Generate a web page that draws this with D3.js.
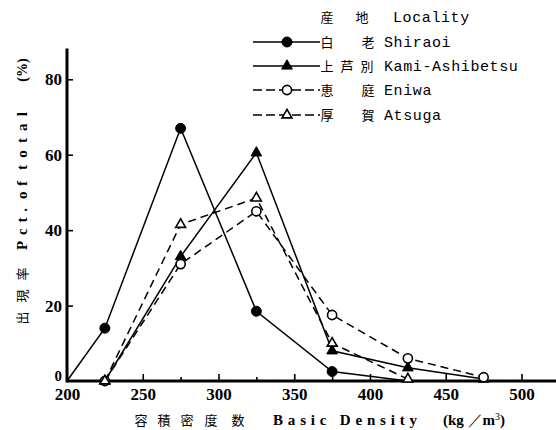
<!DOCTYPE html>
<html>
<head>
<meta charset="utf-8">
<script src="https://cdn.jsdelivr.net/npm/d3@7"></script>
<style>
  html, body { margin: 0; padding: 0; background: #fff; }
  svg { display: block; }
</style>
</head>
<body>
<svg id="chart" width="556" height="430"></svg>
<script>
// Basic density class mid-points (kg/m3) and share of stems per locality (%)
const densityClasses = [200, 225, 275, 325, 375, 425, 475];
const shiraoi = [0, 14, 67, 18.5, 2.5, 0, null];
const kamiAshibetsu = [null, 0, 33, 60.5, 8, 3.5, 0.5];
const eniwa = [null, 0, 31, 45, 17.5, 6, 1];
const atsuga = [null, 0, 41.5, 48.5, 10, 0.5, null];

const xTicksMajor = [200, 250, 300, 350, 400, 450, 500];
const xTicksMinor = [225, 275, 325, 375, 425, 475, 525];
const yTicks = [0, 20, 40, 60, 80];

const localities = [
  { jp: ["白", "老"], en: "Shiraoi", values: shiraoi, symbol: "circle", filled: true, dashed: false },
  { jp: ["上", "芦", "別"], en: "Kami-Ashibetsu", values: kamiAshibetsu, symbol: "triangle", filled: true, dashed: false },
  { jp: ["恵", "庭"], en: "Eniwa", values: eniwa, symbol: "circle", filled: false, dashed: true },
  { jp: ["厚", "賀"], en: "Atsuga", values: atsuga, symbol: "triangle", filled: false, dashed: true }
];

const svg = d3.select("#chart");
const x = d3.scaleLinear().domain([200, 500]).range([67, 521.5]);
const y = d3.scaleLinear().domain([0, 80]).range([381, 79.3]);

const serif = "'Liberation Serif', 'Times New Roman', serif";
const mono = "'Liberation Mono', 'Courier New', monospace";
const cjk = "'Noto Sans CJK JP', sans-serif";

// ---- axes ----
const xMajor = svg.append("g")
  .attr("transform", `translate(0,${y(0)})`)
  .call(d3.axisBottom(x).tickValues(xTicksMajor).tickSizeInner(-7).tickSizeOuter(0).tickPadding(7).tickFormat(d3.format("d")));
const xMinor = svg.append("g")
  .attr("transform", `translate(0,${y(0)})`)
  .call(d3.axisBottom(x).tickValues(xTicksMinor).tickSizeInner(-4).tickSizeOuter(0).tickFormat(""));
const yAxis = svg.append("g")
  .attr("transform", `translate(${x(200)},0)`)
  .call(d3.axisLeft(y).tickValues(yTicks).tickSizeInner(-6).tickSizeOuter(0).tickPadding(5).tickFormat(d3.format("d")));

[xMajor, xMinor, yAxis].forEach(g => {
  g.select(".domain").remove();
  g.selectAll(".tick line").attr("stroke", "#000").attr("stroke-width", 1.6);
  g.selectAll(".tick text")
    .attr("fill", "#000")
    .style("font-family", serif)
    .style("font-weight", "bold")
    .style("font-size", "17px");
});
xMajor.selectAll(".tick").filter(d => d === 200).select("line").remove();
// the zero label sits just above the "200" of the density axis
const yZero = yAxis.selectAll(".tick").filter(d => d === 0);
yZero.select("line").remove();
yZero.select("text").attr("dy", "-0.05em").style("font-size", "15px");

// heavy axis lines
svg.append("line")
  .attr("x1", x(200)).attr("x2", 556)
  .attr("y1", y(0)).attr("y2", y(0))
  .attr("stroke", "#000").attr("stroke-width", 3);
svg.append("line")
  .attr("x1", x(200)).attr("x2", x(200))
  .attr("y1", y(0) + 1.5).attr("y2", y(88.2))
  .attr("stroke", "#000").attr("stroke-width", 3);

// ---- axis titles ----
const xTitle = svg.append("g")
  .attr("fill", "#000")
  .style("font-weight", "bold");
[["容", 141], ["積", 164], ["密", 187], ["度", 211], ["数", 238]].forEach(([ch, cx]) => {
  xTitle.append("text").attr("x", cx).attr("y", 425)
    .attr("text-anchor", "middle")
    .style("font-family", cjk).style("font-size", "13px").style("font-weight", "normal")
    .text(ch);
});
xTitle.append("text").attr("x", 273).attr("y", 425)
  .attr("textLength", 144).attr("lengthAdjust", "spacing")
  .style("font-family", serif).style("font-size", "15px")
  .text("Basic Density");
const unit = xTitle.append("text").attr("x", 443).attr("y", 425)
  .style("font-family", serif).style("font-size", "15px");
unit.append("tspan").text("(kg ");
unit.append("tspan").style("font-weight", "normal").text("／");
unit.append("tspan").text("m");
unit.append("tspan").attr("dy", -5).style("font-size", "10px").style("font-weight", "normal").text("3");
unit.append("tspan").attr("dy", 5).text(")");

const yTitle = svg.append("g")
  .attr("transform", "translate(27,0) rotate(-90)")
  .attr("fill", "#000");
[["出", 318], ["現", 296], ["率", 274]].forEach(([ch, cy]) => {
  yTitle.append("text").attr("x", -cy).attr("y", 0)
    .attr("text-anchor", "middle")
    .style("font-family", cjk).style("font-size", "13px")
    .text(ch);
});
[["Pct.", 250, 42], ["of", 199, 18], ["total", 170, 58]].forEach(([t, start, len]) => {
  yTitle.append("text").attr("x", -start).attr("y", 0)
    .attr("textLength", len).attr("lengthAdjust", "spacing")
    .style("font-family", serif).style("font-size", "15px").style("font-weight", "bold")
    .text(t);
});
yTitle.append("text").attr("x", -70).attr("y", 0)
  .attr("text-anchor", "middle")
  .style("font-family", serif).style("font-size", "14px").style("font-weight", "bold")
  .text("(%)");

// ---- series ----
const symbolType = { circle: d3.symbolCircle, triangle: d3.symbolTriangle };
const symbolSize = { circle: 78, triangle: 50 };

localities.forEach(loc => {
  const pts = densityClasses
    .map((d, i) => ({ cls: d, v: loc.values[i] }))
    .filter(p => p.v !== null);
  const line = d3.line().x(p => x(p.cls)).y(p => y(p.v));
  svg.append("path")
    .datum(pts)
    .attr("d", line)
    .attr("fill", "none")
    .attr("stroke", "#000")
    .attr("stroke-width", 1.5)
    .attr("stroke-dasharray", loc.dashed ? "8,5" : null);

  const last = pts[pts.length - 1];
  const marked = pts.filter(p => p.cls > 200 && !(p === last && p.v === 0));
  svg.append("g").selectAll("path")
    .data(marked)
    .join("path")
    .attr("transform", p => `translate(${x(p.cls)},${y(p.v)})`)
    .attr("d", d3.symbol().type(symbolType[loc.symbol]).size(loc.filled ? symbolSize[loc.symbol] : symbolSize[loc.symbol] * 0.85))
    .attr("fill", loc.filled ? "#000" : "#fff")
    .attr("stroke", "#000")
    .attr("stroke-width", loc.filled ? 1 : 1.6);
});

// ---- legend ----
const legend = svg.append("g").attr("fill", "#000");
legend.append("text").attr("x", 327).attr("y", 22)
  .attr("text-anchor", "middle")
  .style("font-family", cjk).style("font-size", "13px").text("産");
legend.append("text").attr("x", 362).attr("y", 22)
  .attr("text-anchor", "middle")
  .style("font-family", cjk).style("font-size", "13px").text("地");
legend.append("text").attr("x", 393).attr("y", 22)
  .style("font-family", mono).style("font-size", "15px").style("letter-spacing", "0.6px")
  .text("Locality");

const rowY = [42, 66, 90, 115];
localities.forEach((loc, i) => {
  const ry = rowY[i];
  legend.append("line")
    .attr("x1", 253).attr("x2", 320).attr("y1", ry).attr("y2", ry)
    .attr("stroke", "#000").attr("stroke-width", 1.6)
    .attr("stroke-dasharray", loc.dashed ? "9,4" : null);
  legend.append("path")
    .attr("transform", `translate(287,${ry})`)
    .attr("d", d3.symbol().type(symbolType[loc.symbol]).size(loc.filled ? symbolSize[loc.symbol] : symbolSize[loc.symbol] * 0.85))
    .attr("fill", loc.filled ? "#000" : "#fff")
    .attr("stroke", "#000")
    .attr("stroke-width", loc.filled ? 1 : 1.6);
  const jpX = loc.jp.length === 3 ? [327, 347, 367] : [327, 368];
  loc.jp.forEach((ch, k) => {
    legend.append("text").attr("x", jpX[k]).attr("y", ry + 5)
      .attr("text-anchor", "middle")
      .style("font-family", cjk).style("font-size", "13px").text(ch);
  });
  legend.append("text").attr("x", 384).attr("y", ry + 5)
    .style("font-family", mono).style("font-size", "15px").style("letter-spacing", "0.6px")
    .text(loc.en);
});
</script>
</body>
</html>
